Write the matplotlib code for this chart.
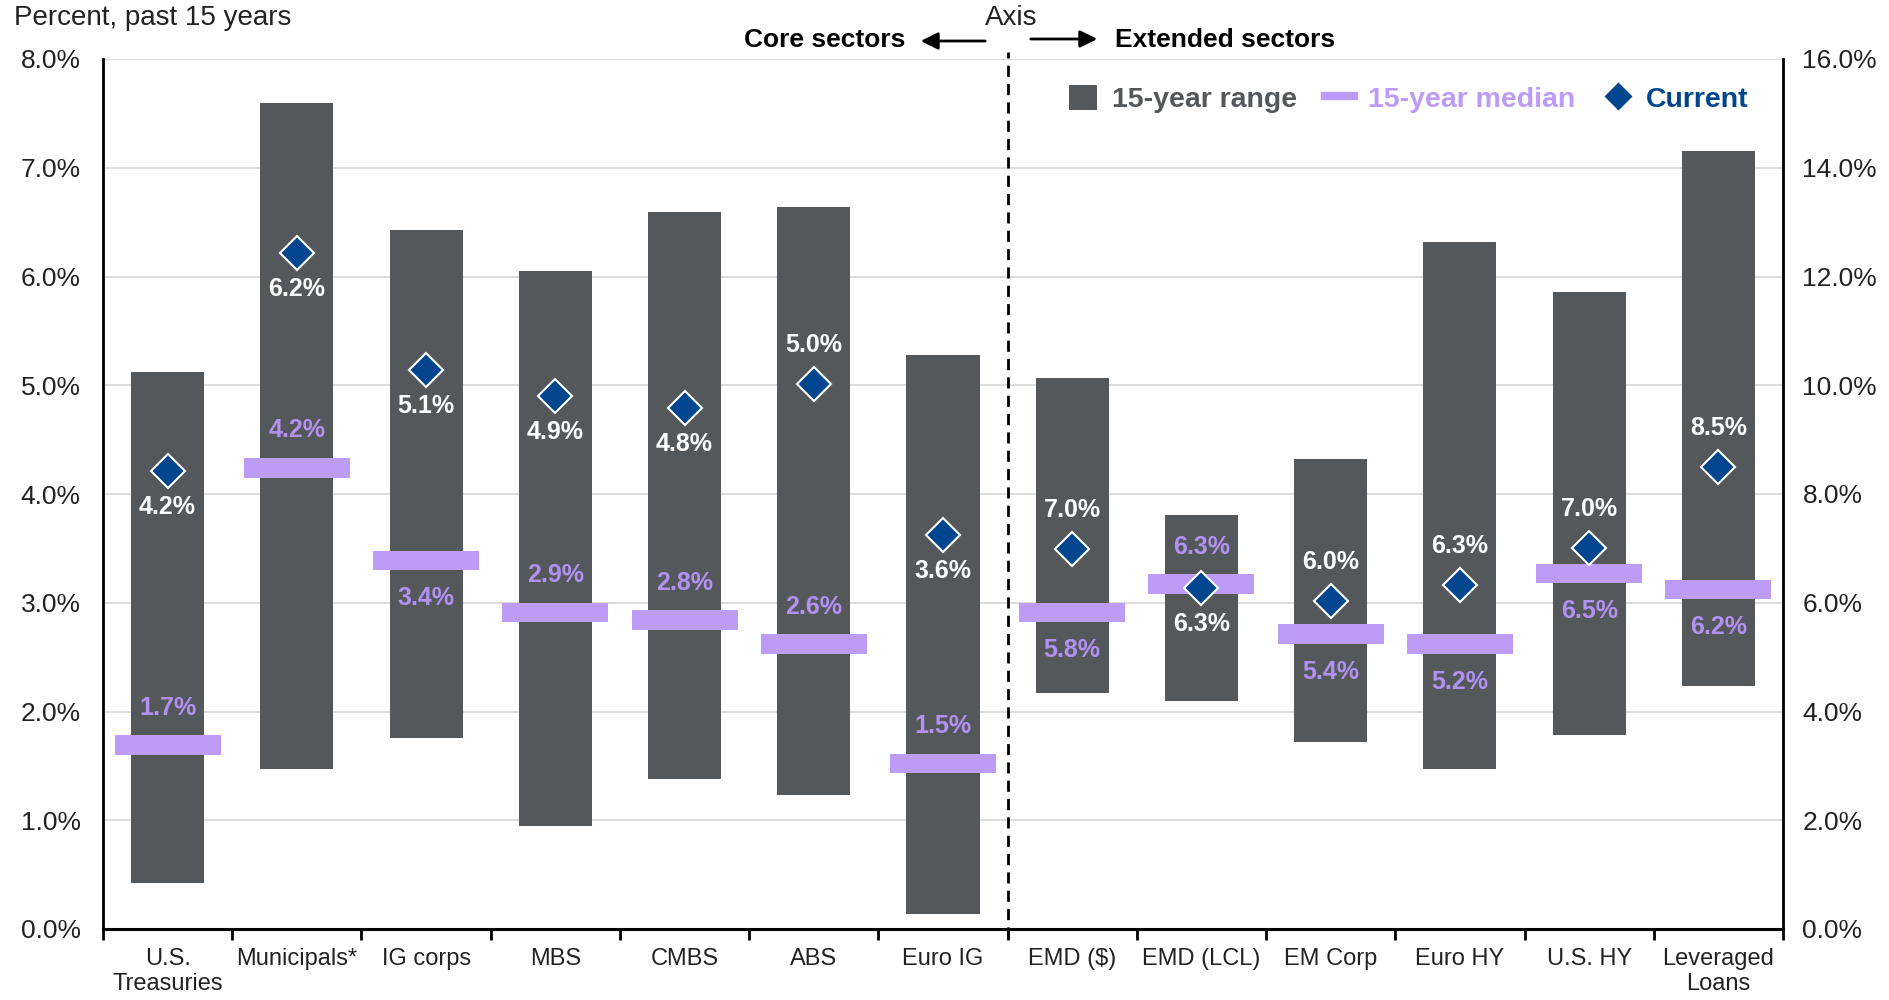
import matplotlib.pyplot as plt
import numpy as np
from matplotlib.patches import Patch
from matplotlib.lines import Line2D

plt.rcParams['font.family'] = ['Liberation Sans', 'DejaVu Sans']

# core sectors, left axis (percent)
core_names = ['U.S.\nTreasuries', 'Municipals*', 'IG corps', 'MBS', 'CMBS', 'ABS', 'Euro IG']
core_low = [0.42, 1.47, 1.76, 0.95, 1.38, 1.23, 0.14]
core_high = [5.12, 7.60, 6.43, 6.05, 6.59, 6.64, 5.28]
core_median = [1.69, 4.24, 3.39, 2.91, 2.84, 2.62, 1.52]
core_current = [4.21, 6.22, 5.14, 4.90, 4.79, 5.01, 3.62]

# extended sectors, right axis (percent)
ext_names = ['EMD ($)', 'EMD (LCL)', 'EM Corp', 'Euro HY', 'U.S. HY', 'Leveraged\nLoans']
ext_low = [4.34, 4.20, 3.43, 2.94, 3.56, 4.47]
ext_high = [10.13, 7.61, 8.65, 12.64, 11.71, 14.30]
ext_median = [5.82, 6.34, 5.42, 5.24, 6.54, 6.24]
ext_current = [6.99, 6.28, 6.04, 6.33, 7.01, 8.50]

# label placement (True = above the marker)
core_cur_above = [False, False, False, False, False, True, False]
core_med_above = [True, True, False, True, True, True, True]
ext_cur_above = [True, False, True, True, True, True]
ext_med_above = [False, True, False, False, False, False]

GRAY = '#55585b'
LAV = '#bc9cf7'
LAV_TXT = '#b191f2'
NAVY = '#00468e'

fig = plt.figure(figsize=(18.9, 10), dpi=100)
ax = fig.add_axes([103/1890, 71/1000, 1680/1890, 870/1000])
ax2 = ax.twinx()

n_core = len(core_names)
x_core = np.arange(n_core)
x_ext = np.arange(len(ext_names)) + n_core


def draw_group(a, x, low, high, med, cur, med_h, cur_above, med_above):
    a.bar(x, np.array(high) - np.array(low), bottom=low, width=0.565, color=GRAY, zorder=2)
    a.bar(x, med_h, bottom=np.array(med) - med_h / 2, width=0.82, color=LAV, zorder=3)
    a.plot(x, cur, linestyle='None', marker='D', ms=17, mfc=NAVY, mec='white', mew=1.5, zorder=4)
    for xi, m, c, ca, ma in zip(x, med, cur, cur_above, med_above):
        a.annotate('%.1f%%' % c, (xi, c), xytext=(0, 28 if ca else -26), textcoords='offset points',
                   ha='center', va='center', color='white', fontsize=18, fontweight='bold', zorder=5)
        a.annotate('%.1f%%' % m, (xi, m), xytext=(0, 27 if ma else -27), textcoords='offset points',
                   ha='center', va='center', color=LAV_TXT, fontsize=18, fontweight='bold', zorder=5)


draw_group(ax, x_core, core_low, core_high, core_median, core_current, 0.18,
           core_cur_above, core_med_above)
draw_group(ax2, x_ext, ext_low, ext_high, ext_median, ext_current, 0.36,
           ext_cur_above, ext_med_above)

ax.set_xlim(-0.5, n_core + len(ext_names) - 0.5)
ax.set_ylim(0, 8)
ax2.set_ylim(0, 16)
ax.set_yticks(np.arange(0, 9, 1))
ax2.set_yticks(np.arange(0, 17, 2))
ax.set_yticklabels(['%.1f%%' % v for v in np.arange(0, 9, 1)])
ax2.set_yticklabels(['%.1f%%' % v for v in np.arange(0, 17, 2)])
ax.tick_params(axis='y', length=0, pad=16, labelsize=19, labelcolor='#222222')
ax2.tick_params(axis='y', length=0, pad=14, labelsize=19, labelcolor='#222222')

ax.set_xticks(np.concatenate([x_core, x_ext]))
ax.set_xticklabels(core_names + ext_names, fontsize=17, color='#222222', linespacing=1.15)
ax.set_xticks(np.arange(-0.5, n_core + len(ext_names)), minor=True)
ax.tick_params(axis='x', which='major', length=0, pad=14)
ax.tick_params(axis='x', which='minor', length=8, width=2, color='black', direction='out')

ax.grid(axis='y', color='#d9d9d9', lw=1.3)
ax.grid(axis='x', visible=False)
ax.set_axisbelow(True)
ax2.grid(False)

for a in (ax, ax2):
    a.spines['top'].set_visible(False)
ax.spines['right'].set_visible(False)
ax2.spines['left'].set_visible(False)
ax2.spines['bottom'].set_visible(False)
ax.spines['left'].set_linewidth(2)
ax.spines['bottom'].set_linewidth(2.2)
ax2.spines['right'].set_linewidth(2)

# divider between core and extended sectors
ax.plot([n_core - 0.5, n_core - 0.5], [-0.08, 8.06], color='black', lw=2,
        linestyle=(0, (4, 2.6)), clip_on=False, zorder=6)

# header texts
fig.text(14/1890, 1 - 18/1000, 'Percent, past 15 years', fontsize=20, va='center', ha='left', color='#222222')
fig.text(1011/1890, 1 - 18/1000, 'Axis', fontsize=20, va='center', ha='center', color='#222222')
fig.text(905/1890, 1 - 40/1000, 'Core sectors', fontsize=19, fontweight='bold', va='center', ha='right')
fig.text(1115/1890, 1 - 40/1000, 'Extended sectors', fontsize=19, fontweight='bold', va='center', ha='left')
ax.annotate('', xy=(918/1890, 1 - 41/1000), xytext=(988/1890, 1 - 41/1000), xycoords='figure fraction',
            arrowprops=dict(arrowstyle='-|>', color='black', lw=2, mutation_scale=26))
ax.annotate('', xy=(1100/1890, 1 - 39/1000), xytext=(1028/1890, 1 - 39/1000), xycoords='figure fraction',
            arrowprops=dict(arrowstyle='-|>', color='black', lw=2, mutation_scale=26))

handles = [Patch(facecolor=GRAY),
           Line2D([0], [0], color=LAV, lw=6),
           Line2D([0], [0], linestyle='None', marker='D', ms=15, mfc=NAVY, mec='white')]
ax2.legend(handles, ['15-year range', '15-year median', 'Current'], loc='upper right',
           bbox_to_anchor=(0.995, 1.0), ncol=3, frameon=False, handlelength=1.0, handleheight=1.0,
           handletextpad=0.5, columnspacing=1.0,
           prop={'size': 20.5, 'weight': 'bold'}, labelcolor=[GRAY, LAV, NAVY])

fig.savefig('out.png', dpi=100)
